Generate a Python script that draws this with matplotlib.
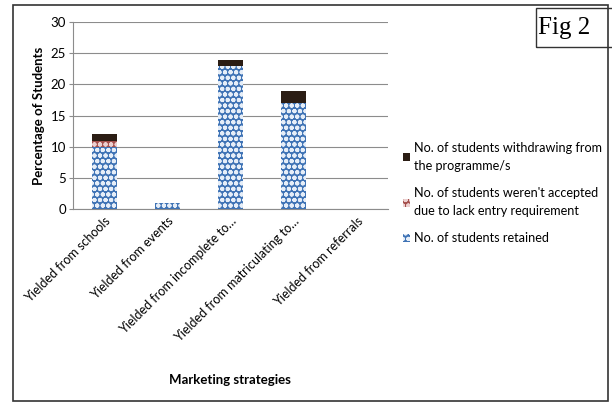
import matplotlib.pyplot as plt
import numpy as np
from matplotlib.patches import Rectangle

plt.rcParams['font.family'] = ['Lato', 'DejaVu Sans']
plt.rcParams['hatch.linewidth'] = 1.4

categories = [
    "Yielded from schools",
    "Yielded from events",
    "Yielded from incomplete to…",
    "Yielded from matriculating to…",
    "Yielded from referrals",
]
retained = [10, 1, 23, 17, 0]
not_accepted = [1, 0, 0, 0, 0]
withdrawing = [1, 0, 1, 2, 0]

labels = [
    "No. of students retained",
    "No. of students weren't accepted\ndue to lack entry requirement",
    "No. of students withdrawing from\nthe programme/s",
]

fig = plt.figure(figsize=(6.12, 4.03), dpi=100)
ax = fig.add_axes([0.119, 0.481, 0.515, 0.464])

x = np.arange(len(categories))
w = 0.4
b1 = ax.bar(x, retained, w, color='#3f73b5', edgecolor='#e6eef8', lw=0,
            hatch='ooo', label=labels[0], zorder=3)
b2 = ax.bar(x, not_accepted, w, bottom=retained, color='#a5504d',
            edgecolor='#ecd0d0', lw=0, hatch='ooo', label=labels[1], zorder=3)
bottom2 = np.array(retained) + np.array(not_accepted)
b3 = ax.bar(x, withdrawing, w, bottom=bottom2, color='#2b1d14', lw=0,
            label=labels[2], zorder=3)

ax.set_xlim(-0.5, len(categories) - 0.5)
ax.set_ylim(0, 30)
ax.set_yticks(range(0, 31, 5))
ax.grid(axis='y', color='#8c8c8c', lw=0.8, zorder=0)
for s in ['top', 'right']:
    ax.spines[s].set_visible(False)
ax.spines['left'].set_color('#8c8c8c')
ax.spines['bottom'].set_color('#8c8c8c')
ax.tick_params(axis='y', length=3, color='#8c8c8c', labelsize=9.5, pad=2)
ax.tick_params(axis='x', length=0, labelsize=9.0, pad=4)
ax.set_xticks(x)
ax.set_xticklabels(categories, rotation=45, ha='right', rotation_mode='anchor')
ax.set_ylabel("Percentage of Students", fontsize=9.5, fontweight='bold', labelpad=4)
ax.set_xlabel("Marketing strategies", fontsize=9.5, fontweight='bold')
ax.xaxis.set_label_coords(0.5, -0.88)

handles = [b3, b2, b1]
leg = fig.legend(handles, [labels[2], labels[1], labels[0]],
                 loc='upper left', bbox_to_anchor=(0.658, 0.648),
                 frameon=False, fontsize=9.1, handlelength=0.6, handleheight=0.6,
                 handletextpad=0.3, labelspacing=1.2, borderpad=0,
                 borderaxespad=0)
for t in leg.get_texts():
    t.set_linespacing(1.6)

# outer frame and figure tag
fig.patches.append(Rectangle((0.021, 0.005), 0.972, 0.983, transform=fig.transFigure,
                             fill=False, edgecolor='#333333', lw=1.2))
fig.patches.append(Rectangle((0.876, 0.883), 0.13, 0.097, transform=fig.transFigure,
                             fill=False, edgecolor='#333333', lw=1))
fig.text(0.879, 0.931, "Fig 2", fontsize=18, family='Liberation Serif',
         ha='left', va='center')

fig.savefig('out.png', dpi=100)
